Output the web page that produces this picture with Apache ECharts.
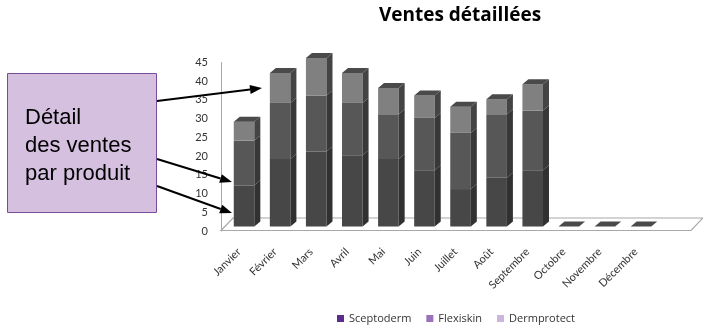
<!DOCTYPE html>
<html>
<head>
<meta charset="utf-8">
<script src="https://cdn.jsdelivr.net/npm/echarts@6/dist/echarts.min.js"></script>
<style>
  html, body { margin: 0; padding: 0; background: #ffffff; }
  #chart { width: 703px; height: 325px; }
</style>
</head>
<body>
<div id="chart"></div>
<script>
// Monthly sales, stacked by product
const months = ['Janvier', 'Février', 'Mars', 'Avril', 'Mai', 'Juin', 'Juillet', 'Août', 'Septembre', 'Octobre', 'Novembre', 'Décembre'];
const sceptoderm  = [11, 18, 20, 19, 18, 15, 10, 13, 15, 0, 0, 0];
const flexiskin   = [12, 15, 15, 14, 12, 14, 15, 17, 16, 0, 0, 0];
const dermprotect = [ 5,  8, 10,  8,  7,  6,  7,  4,  7, 0, 0, 0];
const products = ['Sceptoderm', 'Flexiskin', 'Dermprotect'];
const calloutLines = ['Détail', 'des ventes', 'par produit'];

// Styling
const legendColors = ['#5b2c8c', '#9a72b9', '#cbb5dd'];
const frontColors = ['#474747', '#575757', '#808080'];
const sideColors  = ['#313131', '#383838', '#444444'];
const topColor = '#4a4a4a';
const font = 'Lato, "Open Sans", sans-serif';
const wideFont = '"Open Sans", Lato, sans-serif';

const stacks = [sceptoderm, flexiskin, dermprotect];

function stackedData(k) {
  return months.map((m, i) => {
    let base = 0;
    for (let j = 0; j < k; j++) base += stacks[j][i];
    return [i, base, base + stacks[k][i]];
  });
}

function isTopSegment(k, i) {
  for (let j = k + 1; j < stacks.length; j++) if (stacks[j][i] > 0) return false;
  return true;
}

// Pseudo-3D column segment: front face, right side face, and lid on the top segment
function makeRenderer(k) {
  return function (params, api) {
    const i = api.value(0);
    const p0 = api.coord([i, api.value(1)]);
    const p1 = api.coord([i, api.value(2)]);
    const band = api.size([1, 0])[0];
    const w = band * 0.57;
    const fx = 5, fy = -4.5;   // column sits a little back on the floor
    const dx = 6, dy = -5;     // depth of the column
    const x0 = p0[0] + fx - w / 2;
    const x1 = x0 + w;
    const yb = p0[1] + fy;
    const yt = p1[1] + fy;
    const children = [];
    const h = yb - yt;
    if (h > 0.01) {
      children.push({
        type: 'rect',
        shape: { x: x0, y: yt, width: w, height: h },
        style: { fill: frontColors[k] }
      });
      children.push({
        type: 'polygon',
        shape: { points: [[x1, yb], [x1 + dx, yb + dy], [x1 + dx, yt + dy], [x1, yt]] },
        style: { fill: sideColors[k] }
      });
    }
    if (isTopSegment(k, i) && (k === 0 || h > 0.01)) {
      children.push({
        type: 'polygon',
        shape: { points: [[x0, yt], [x1, yt], [x1 + dx, yt + dy], [x0 + dx, yt + dy]] },
        style: { fill: topColor }
      });
    }
    return { type: 'group', children: children };
  };
}

function arrow(a, b) {
  const ang = Math.atan2(b[1] - a[1], b[0] - a[0]);
  const len = 12, half = 4.5;
  const bx = b[0] - len * Math.cos(ang), by = b[1] - len * Math.sin(ang);
  const nx = -Math.sin(ang), ny = Math.cos(ang);
  return [
    {
      type: 'line',
      z: 22,
      shape: { x1: a[0], y1: a[1], x2: bx, y2: by },
      style: { stroke: '#000000', lineWidth: 2 }
    },
    {
      type: 'polygon',
      z: 22,
      shape: { points: [[b[0], b[1]], [bx + nx * half, by + ny * half], [bx - nx * half, by - ny * half]] },
      style: { fill: '#000000' }
    }
  ];
}

const chart = echarts.init(document.getElementById('chart'), null, { renderer: 'canvas' });

const option = {
  animation: false,
  backgroundColor: '#ffffff',
  title: {
    text: 'Ventes détaillées',
    left: 455,
    top: 1,
    textAlign: 'center',
    textStyle: { fontFamily: wideFont, fontSize: 19, fontWeight: 'bold', color: '#000000' }
  },
  legend: {
    data: products.map((n, k) => ({ name: n, itemStyle: { color: legendColors[k] } })),
    icon: 'rect',
    left: 332,
    top: 308,
    itemWidth: 7,
    itemHeight: 7,
    itemGap: 15,
    textStyle: { fontFamily: wideFont, fontSize: 11, color: '#333333' }
  },
  grid: { left: 221, top: 62.5, width: 433, bottom: 94, containLabel: false },
  xAxis: {
    type: 'category',
    data: months,
    axisLine: { show: false },
    axisTick: { show: false },
    axisLabel: {
      rotate: 45,
      margin: 19,
      interval: 0,
      fontFamily: font,
      fontSize: 11,
      color: '#333333'
    }
  },
  yAxis: {
    type: 'value',
    min: 0,
    max: 45,
    interval: 5,
    axisLine: { show: true, lineStyle: { color: '#a8a8a8', width: 1 } },
    axisTick: { show: false },
    splitLine: { show: false },
    axisLabel: { margin: 13, fontFamily: font, fontSize: 11, color: '#333333' }
  },
  series: products.map((n, k) => ({
    type: 'custom',
    name: n,
    z: 10,
    itemStyle: { color: legendColors[k] },
    renderItem: makeRenderer(k),
    encode: { x: 0, y: [1, 2] },
    data: stackedData(k)
  })),
  graphic: [
    // chart floor
    {
      type: 'polygon',
      z: 0,
      shape: { points: [[221, 230.5], [691, 230.5], [703, 218], [233, 218]] },
      style: { fill: 'none', stroke: '#a8a8a8', lineWidth: 1.2 },
      silent: true
    },
    // callout box
    {
      type: 'rect',
      z: 20,
      shape: { x: 7.5, y: 73.5, width: 149, height: 139 },
      style: { fill: '#d6c0e0', stroke: '#7b4b9b', lineWidth: 1 }
    },
    {
      type: 'text',
      z: 21,
      left: 25,
      top: 104,
      style: {
        text: calloutLines.join('\n'),
        font: '22px "Liberation Sans", Arial, sans-serif',
        lineHeight: 28,
        fill: '#000000'
      }
    },
    // arrows from the callout
    ...[
      [[157, 101], [262, 88]],
      [[157, 159], [232, 182]],
      [[157, 186], [232, 213]]
    ].map(seg => arrow(seg[0], seg[1]))
  ].flat()
};

chart.setOption(option);
</script>
</body>
</html>
